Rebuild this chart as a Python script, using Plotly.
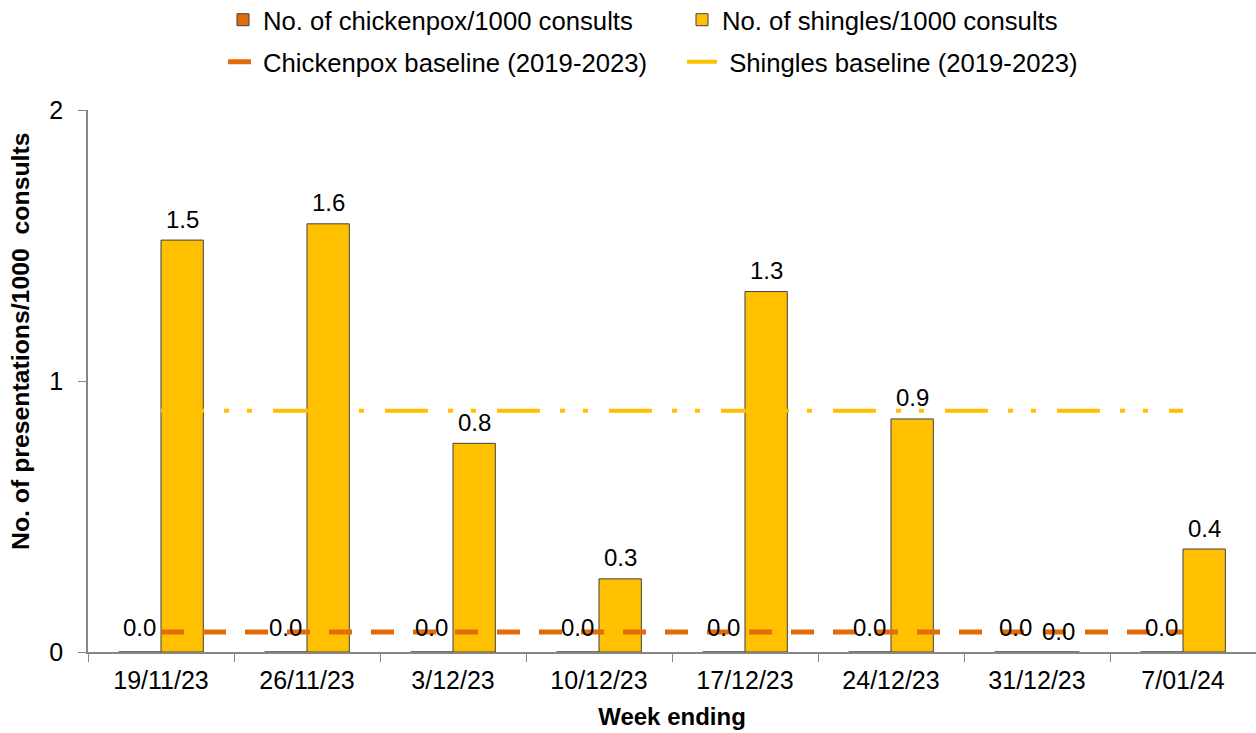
import plotly.graph_objects as go

weeks = ["19/11/23", "26/11/23", "3/12/23", "10/12/23", "17/12/23", "24/12/23", "31/12/23", "7/01/24"]
chickenpox = [0.0, 0.0, 0.0, 0.0, 0.0, 0.0, 0.0, 0.0]
shingles = [1.52, 1.58, 0.77, 0.27, 1.33, 0.86, 0.0, 0.38]
chickenpox_baseline = [0.074, 0.074, 0.074, 0.074, 0.074, 0.074, 0.074, 0.074]
shingles_baseline = [0.89, 0.89, 0.89, 0.89, 0.89, 0.89, 0.89, 0.89]

ORANGE = "#E26B0A"
YELLOW = "#FFC000"
FONT = "Liberation Sans, Arial, sans-serif"
BARGAP = 0.42

fig = go.Figure()
fig.add_trace(go.Bar(
    x=weeks, y=chickenpox, name="No. of chickenpox/1000 consults",
    marker=dict(color=ORANGE, line=dict(color="#404040", width=1)),
    legend="legend",
))
fig.add_trace(go.Bar(
    x=weeks, y=shingles, name="No. of shingles/1000 consults",
    marker=dict(color=YELLOW, line=dict(color="#404040", width=1)),
    legend="legend",
))
fig.add_trace(go.Scatter(
    x=weeks, y=chickenpox_baseline, mode="lines", name="Chickenpox baseline (2019-2023)",
    line=dict(color=ORANGE, width=5, dash="23px,19px"),
    legend="legend2",
))
fig.add_trace(go.Scatter(
    x=weeks, y=shingles_baseline, mode="lines", name=" Shingles baseline (2019-2023)",
    line=dict(color=YELLOW, width=4, dash="43px,20px,5px,18px,5px,21px"),
    legend="legend2",
))

# data labels (one per bar, taken from the series values)
plot_w = 1256 - 88
cat_w = plot_w / len(weeks)
bar_off = cat_w * (1 - BARGAP) / 4
annotations = []
for wk, v in zip(weeks, chickenpox):
    annotations.append(dict(x=wk, y=v, xref="x", yref="y", text=f"{v:.1f}", showarrow=False,
                            xshift=-bar_off, yshift=25, yanchor="middle",
                            font=dict(size=24, color="black", family=FONT)))
for wk, v in zip(weeks, shingles):
    annotations.append(dict(x=wk, y=v, xref="x", yref="y", text=f"{v:.1f}", showarrow=False,
                            xshift=bar_off, yshift=21, yanchor="middle",
                            font=dict(size=24, color="black", family=FONT)))

# y-axis title (placed as rotated text, as in the original)
annotations.append(dict(
    text="<b>No. of presentations/1000  consults</b>", textangle=-90, showarrow=False,
    xref="paper", yref="paper", x=0, y=(652 - 341) / 542, xanchor="center", yanchor="middle",
    xshift=-68, font=dict(size=24.8, color="black", family=FONT),
))

legend_common = dict(
    orientation="h", xref="container", yref="container", xanchor="left", yanchor="middle",
    font=dict(size=25.7, color="black", family=FONT), entrywidthmode="pixels", entrywidth=414,
    bgcolor="rgba(0,0,0,0)", traceorder="normal",
)

fig.update_layout(
    width=1256, height=733,
    margin=dict(l=88, r=0, t=110, b=81),
    plot_bgcolor="white", paper_bgcolor="white",
    barmode="group", bargap=BARGAP, bargroupgap=0,
    font=dict(family=FONT, color="black"),
    annotations=annotations,
    legend=dict(x=223 / 1256, y=1 - 20 / 733, **legend_common),
    legend2=dict(x=223 / 1256, y=1 - 62 / 733, **legend_common),
    xaxis=dict(
        type="category", showline=True, linecolor="#868686", linewidth=1.5,
        ticks="outside", tickson="boundaries", ticklen=8, tickcolor="#868686",
        tickfont=dict(size=25, color="black"), showgrid=False, automargin=False,
        layer="above traces", ticklabelstandoff=5,
        title=dict(text="<b>Week ending</b>", font=dict(size=24, color="black"), standoff=15),
    ),
    yaxis=dict(
        range=[0, 2], tickvals=[0, 1, 2], showline=True, linecolor="#868686", linewidth=1.5,
        ticks="outside", ticklen=8, tickcolor="#868686", showgrid=False, zeroline=False,
        tickfont=dict(size=25, color="black"), automargin=False, ticklabelstandoff=10,
        layer="above traces",
    ),
)

fig.write_html("out.html", config={"displayModeBar": False},
               post_script="document.body.style.margin='0';")
